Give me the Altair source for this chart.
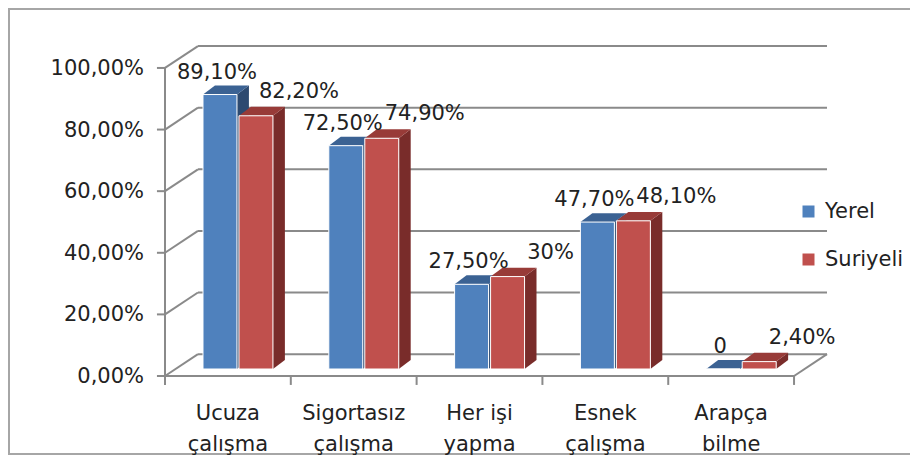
import altair as alt
import pandas as pd

# ---------------- data ----------------
categories = ["Ucuza\nçalışma", "Sigortasız\nçalışma", "Her işi\nyapma", "Esnek\nçalışma", "Arapça\nbilme"]
series = ["Yerel", "Suriyeli"]
yerel = [89.1, 72.5, 27.5, 47.7, 0.0]
suriyeli = [82.2, 74.9, 30.0, 48.1, 2.4]
yerel_labels = ["89,10%", "72,50%", "27,50%", "47,70%", "0"]
suriyeli_labels = ["82,20%", "74,90%", "30%", "48,10%", "2,40%"]
y_ticks = [0, 20, 40, 60, 80, 100]
y_tick_labels = ["0,00%", "20,00%", "40,00%", "60,00%", "80,00%", "100,00%"]

# ---------------- style / 3D geometry ----------------
FONT = "DejaVu Sans"
FS = 21
TXT = "#222222"
GRID = "#8a8a8a"
front_col = {"Yerel": "#4F81BD", "Suriyeli": "#C0504D"}
top_col = {"Yerel": "#3B6293", "Suriyeli": "#983B38"}
side_col = {"Yerel": "#2D4A70", "Suriyeli": "#792C2A"}

WALL_DX, WALL_DY = 0.262, 7.1       # depth of the chart box (x units, % units)
BAR_SHIFT, BAR_BASE = 0.08, 2.27    # bars sit a bit behind the front plane
BAR_W, BAR_GAP = 0.27, 0.016
DEP_DX, DEP_DY = 0.095, 2.9         # bar depth
TICK_X, TICK_Y = 0.064, 2.9         # tick mark lengths
NCAT = len(categories)

xs = alt.Scale(domain=[0, NCAT + WALL_DX], nice=False, zero=False)
ys = alt.Scale(domain=[0, 108.1], nice=False, zero=False)

def X(f="x"):
    return alt.X(f"{f}:Q", scale=xs, axis=None)

def Y(f="y"):
    return alt.Y(f"{f}:Q", scale=ys, axis=None)

# ---------------- build geometry from the data ----------------
fronts, sides, tops, labels = [], [], [], []
for i in range(NCAT):
    c = i + 0.5 + BAR_SHIFT
    for s, vals, labs in (("Yerel", yerel, yerel_labels), ("Suriyeli", suriyeli, suriyeli_labels)):
        v = vals[i]
        if s == "Yerel":
            L, R = c - BAR_GAP / 2 - BAR_W, c - BAR_GAP / 2
        else:
            L, R = c + BAR_GAP / 2, c + BAR_GAP / 2 + BAR_W
        b, t = BAR_BASE, BAR_BASE + v
        bid = f"{s}{i}"
        fronts.append(dict(series=s, x=L, x2=R, y=b, y2=t))
        sides += [dict(series=s, id=bid, x=R, y=b, y2=t),
                  dict(series=s, id=bid, x=R + DEP_DX, y=b + DEP_DY, y2=t + DEP_DY)]
        tops += [dict(series=s, id=bid, x=L, y=t, y2=t),
                 dict(series=s, id=bid, x=L + DEP_DX, y=t, y2=t + DEP_DY),
                 dict(series=s, id=bid, x=R, y=t, y2=t + DEP_DY),
                 dict(series=s, id=bid, x=R + DEP_DX, y=t + DEP_DY, y2=t + DEP_DY)]
        labels.append(dict(series=s, x=(L + R) / 2, y=t, text=labs[i]))

fronts = pd.DataFrame(fronts)
sides = pd.DataFrame(sides)
tops = pd.DataFrame(tops)
labels = pd.DataFrame(labels)

# walls: back gridlines, left-wall diagonals, axis lines, floor edge, ticks
grid = pd.DataFrame([dict(x=WALL_DX, x2=NCAT + WALL_DX, y=v + WALL_DY, y2=v + WALL_DY) for v in y_ticks])
diag = pd.DataFrame([dict(x=0, x2=WALL_DX, y=v, y2=v + WALL_DY) for v in y_ticks]
                    + [dict(x=NCAT, x2=NCAT + WALL_DX, y=0, y2=WALL_DY)])
axes_lines = pd.DataFrame([dict(x=0, x2=0, y=0, y2=y_ticks[-1]),
                           dict(x=0, x2=NCAT, y=0, y2=0)])
ticks = pd.DataFrame([dict(x=i, x2=i, y=0, y2=-TICK_Y) for i in range(NCAT + 1)]
                     + [dict(x=-TICK_X, x2=0, y=v, y2=v) for v in y_ticks])
cats = pd.DataFrame([dict(x=i + 0.5, y=0, text=c) for i, c in enumerate(categories)])
ylabs = pd.DataFrame(dict(x=[0] * len(y_ticks), y=y_ticks, text=y_tick_labels))

def rules(df, w=2):
    return alt.Chart(df).mark_rule(color=GRID, strokeWidth=w).encode(
        x=X(), x2="x2:Q", y=Y(), y2="y2:Q")

frame = alt.Chart(pd.DataFrame({"a": [0]})).mark_rect(
    filled=False, stroke="#a6a6a6", strokeWidth=2).encode(
    x=alt.value(-156), x2=alt.value(800), y=alt.value(-34), y2=alt.value(411))

layers = [frame, rules(grid), rules(diag), rules(axes_lines), rules(ticks)]

for s in series:
    layers.append(alt.Chart(sides[sides.series == s]).mark_area(color=side_col[s]).encode(
        x=X(), y=Y(), y2="y2:Q", detail="id:N"))
for s in series:
    layers.append(alt.Chart(tops[tops.series == s]).mark_area(color=top_col[s]).encode(
        x=X(), y=Y(), y2="y2:Q", detail="id:N"))

layers.append(alt.Chart(fronts).mark_bar(stroke="white", strokeWidth=1).encode(
    x=X(), x2="x2:Q", y=Y(), y2="y2:Q",
    color=alt.Color("series:N", sort=series,
                    scale=alt.Scale(domain=series, range=[front_col[s] for s in series]),
                    legend=alt.Legend(title=None, orient="none", legendX=633, legendY=158,
                                      symbolType="square", symbolSize=144, symbolStrokeWidth=0,
                                      labelFont=FONT, labelFontSize=FS, labelColor=TXT,
                                      labelOffset=6, rowPadding=26, padding=0))))

layers.append(alt.Chart(labels[labels.series == "Yerel"]).mark_text(
    font=FONT, fontSize=FS, color=TXT, dx=-3, dy=-22, baseline="middle").encode(
    x=X(), y=Y(), text="text:N"))
layers.append(alt.Chart(labels[labels.series == "Suriyeli"]).mark_text(
    font=FONT, fontSize=FS, color=TXT, dx=43, dy=-24, baseline="middle").encode(
    x=X(), y=Y(), text="text:N"))
layers.append(alt.Chart(cats).mark_text(
    font=FONT, fontSize=FS, color=TXT, lineBreak="\n", lineHeight=31,
    baseline="alphabetic", dy=44).encode(x=X(), y=Y(), text="text:N"))
layers.append(alt.Chart(ylabs).mark_text(
    font=FONT, fontSize=FS, color=TXT, align="right", baseline="middle", dx=-21, dy=1).encode(
    x=X(), y=Y(), text="text:N"))

chart = alt.layer(*layers).properties(
    width=662, height=333,
    autosize=alt.AutoSizeParams(type="none"),
    padding={"left": 157, "top": 35, "right": 83, "bottom": 80},
    background="white",
).configure_view(stroke=None)

chart.save("out.html", embed_options={"renderer": "svg", "actions": False})
